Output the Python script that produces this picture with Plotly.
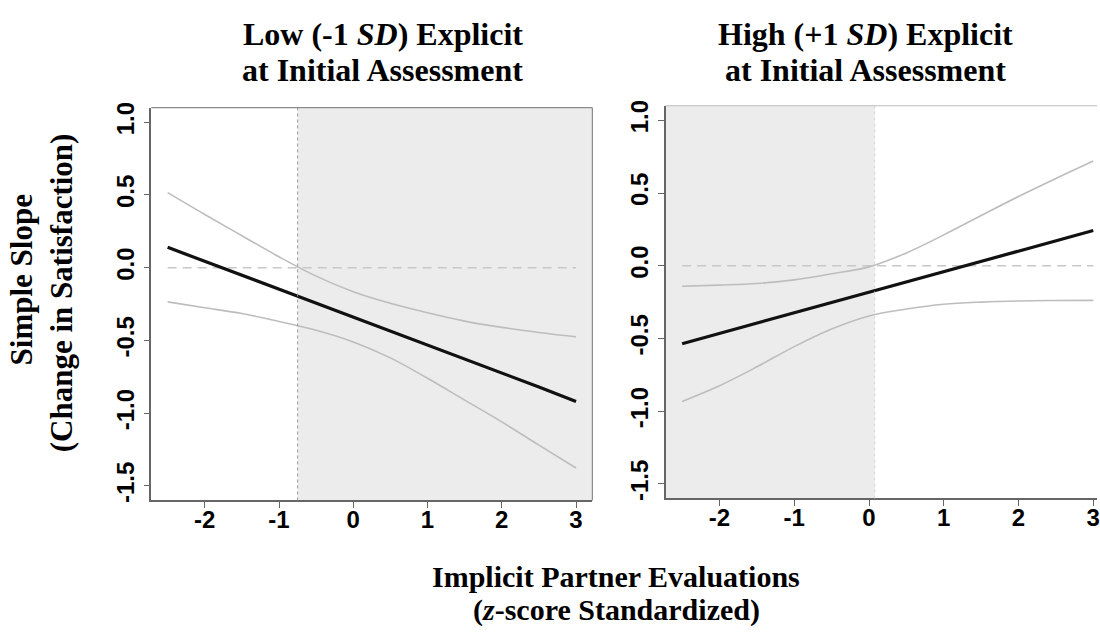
import plotly.graph_objects as go

W, H = 1100, 639

# Values of the focal predictor at which the simple slopes were probed
x_grid = [-2.5, -2, -1.5, -1, -0.5, 0, 0.5, 1, 1.5, 2, 2.5, 3]

# Low (-1 SD) explicit evaluations: simple slope and 95% confidence band
low_slope = [0.14, 0.044, -0.049, -0.145, -0.241, -0.338, -0.434, -0.53, -0.627, -0.723, -0.82, -0.92]
low_upper = [0.516, 0.366, 0.22, 0.075, -0.058, -0.165, -0.245, -0.31, -0.367, -0.41, -0.445, -0.475]
low_lower = [-0.235, -0.275, -0.315, -0.37, -0.43, -0.51, -0.62, -0.76, -0.91, -1.06, -1.22, -1.377]

# High (+1 SD) explicit evaluations: simple slope and 95% confidence band
high_slope = [-0.536, -0.465, -0.395, -0.324, -0.253, -0.182, -0.112, -0.041, 0.030, 0.101, 0.171, 0.242]
high_upper = [-0.141, -0.133, -0.122, -0.097, -0.055, -0.008, 0.088, 0.212, 0.345, 0.476, 0.60, 0.72]
high_lower = [-0.933, -0.825, -0.695, -0.556, -0.435, -0.345, -0.298, -0.265, -0.25, -0.242, -0.239, -0.238]

# Johnson-Neyman boundaries of the regions of significance
low_boundary = -0.75
high_boundary = 0.076

x_ticks = [-2, -1, 0, 1, 2, 3]
x_tick_text = ["-2", "-1", "0", "1", "2", "3"]
y_ticks = [-1.5, -1.0, -0.5, 0.0, 0.5, 1.0]
y_tick_text = ["-1.5", "-1.0", "-0.5", "0.0", "0.5", "1.0"]

panel_titles = [["Low (-1 <i>SD</i>) Explicit", "at Initial Assessment"],
                ["High (+1 <i>SD</i>) Explicit", "at Initial Assessment"]]
y_title = ["Simple Slope", "(Change in Satisfaction)"]
x_title = ["Implicit Partner Evaluations", "(<i>z</i>-score Standardized)"]

SERIF = "Liberation Serif, Times New Roman, serif"
SANS = "Liberation Sans, Arial, sans-serif"
BAND = "#ececec"
CI_COL = "#bdbdbd"
AXIS_COL = "#666666"


def px_x(p):
    return p / W


def px_y(p):
    return 1 - p / H


fig = go.Figure()

panels = [
    dict(xa="x", ya="y", slope=low_slope, up=low_upper, lo=low_lower),
    dict(xa="x2", ya="y2", slope=high_slope, up=high_upper, lo=high_lower),
]
for p in panels:
    fig.add_trace(go.Scatter(x=[x_grid[0], x_grid[-1]], y=[0, 0], mode="lines",
                             line=dict(color="#c8c8c8", width=1.6, dash="9px,6px"),
                             xaxis=p["xa"], yaxis=p["ya"], hoverinfo="skip"))
    for band in (p["up"], p["lo"]):
        fig.add_trace(go.Scatter(x=x_grid, y=band, mode="lines",
                                 line=dict(color=CI_COL, width=1.6, shape="spline"),
                                 xaxis=p["xa"], yaxis=p["ya"]))
    fig.add_trace(go.Scatter(x=x_grid, y=p["slope"], mode="lines",
                             line=dict(color="#111111", width=3.2),
                             xaxis=p["xa"], yaxis=p["ya"]))

# Shaded regions of significance and their boundaries
fig.add_shape(type="rect", xref="x", yref="y domain", x0=low_boundary, x1=3.22,
              y0=0, y1=1, fillcolor=BAND, line_width=0, layer="below")
fig.add_shape(type="line", xref="x", yref="y domain", x0=low_boundary, x1=low_boundary,
              y0=0, y1=1, line=dict(color="#9a9a9a", width=1, dash="dot"))
fig.add_shape(type="rect", xref="x2", yref="y2 domain", x0=-2.72, x1=high_boundary,
              y0=0, y1=1, fillcolor=BAND, line_width=0, layer="below")
fig.add_shape(type="line", xref="x2", yref="y2 domain", x0=high_boundary, x1=high_boundary,
              y0=0, y1=1, line=dict(color="#d6d6d6", width=1, dash="dot"))

# Top and right frame lines
fig.add_shape(type="line", xref="x domain", yref="y domain", x0=0, x1=1, y0=1, y1=1,
              line=dict(color="#8a8a8a", width=1.2))
fig.add_shape(type="line", xref="x domain", yref="y domain", x0=1, x1=1, y0=0, y1=1,
              line=dict(color="#8a8a8a", width=1.2))
fig.add_shape(type="line", xref="x2 domain", yref="y2 domain", x0=0, x1=1, y0=1, y1=1,
              line=dict(color="#bbbbbb", width=1.2))

tick_font = dict(family=SANS, size=24, color="#000000", weight="bold")
common_x = dict(tickvals=x_ticks, ticktext=x_tick_text, ticks="outside", ticklen=6,
                tickwidth=1.2, tickcolor=AXIS_COL, showline=True, linecolor=AXIS_COL,
                linewidth=1.5, showgrid=False, zeroline=False, tickfont=tick_font,
                ticklabeloverflow="allow", ticklabelstandoff=-9, fixedrange=True)
common_y = dict(tickvals=y_ticks, ticktext=y_tick_text, ticks="outside", ticklen=6, tickwidth=1.2,
                tickcolor=AXIS_COL, showline=True, linecolor=AXIS_COL, linewidth=1.5,
                showgrid=False, zeroline=False, tickfont=tick_font, tickangle=-90,
                range=[-1.6, 1.1], fixedrange=True, ticklabelstandoff=0,
                ticklabeloverflow="allow")

fig.update_layout(
    width=W, height=H, margin=dict(l=0, r=0, t=0, b=0),
    paper_bgcolor="white", plot_bgcolor="white", showlegend=False,
    xaxis=dict(domain=[px_x(151.7), px_x(594)], range=[-2.72, 3.22], anchor="y", **common_x),
    yaxis=dict(domain=[px_y(500.7), px_y(103)], anchor="x", **common_y),
    xaxis2=dict(domain=[px_x(667.5), 1.0], range=[-2.72, 3.05], anchor="y2", **common_x),
    yaxis2=dict(domain=[px_y(498.7), px_y(101)], anchor="x2", **common_y),
)


def label(text, x, y, size, angle=0):
    fig.add_annotation(text=text, x=px_x(x), y=px_y(y), xref="paper", yref="paper",
                       xanchor="center", yanchor="middle", showarrow=False,
                       textangle=angle,
                       font=dict(family=SERIF, size=size, color="#000000", weight="bold"))


label(panel_titles[0][0], 384, 28, 32)
label(panel_titles[0][1], 384, 65, 32)
label(panel_titles[1][0], 868, 28, 32)
label(panel_titles[1][1], 868, 65, 32)
label(y_title[0], 22, 277, 31, -90)
label(y_title[1], 62, 290, 31, -90)
label(x_title[0], 618, 578, 30)
label(x_title[1], 618, 612, 30)

fig.write_html("out.html")
